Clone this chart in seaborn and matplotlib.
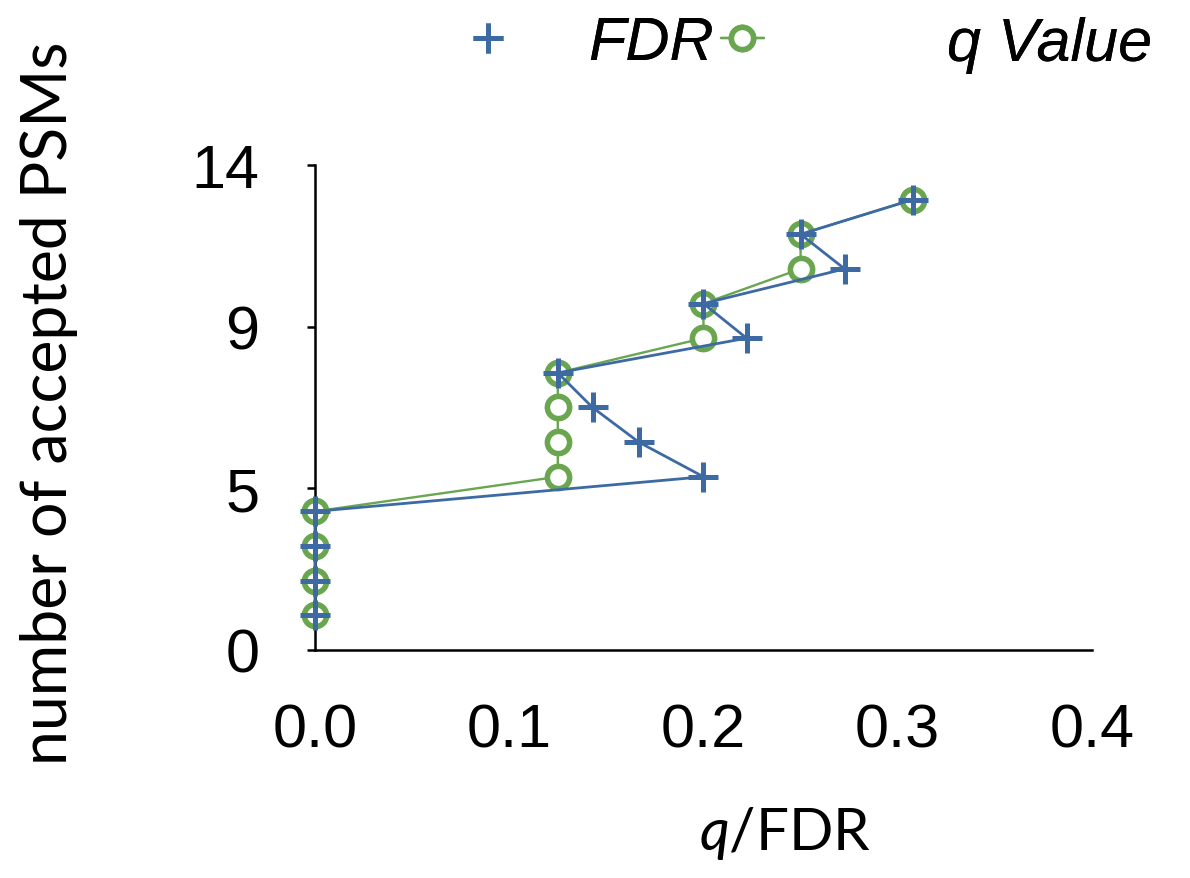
import numpy as np
import pandas as pd
import matplotlib
matplotlib.use("Agg")
import matplotlib.pyplot as plt
import seaborn as sns
from matplotlib.lines import Line2D

# number of accepted PSMs at each threshold
n_accepted = [1, 2, 3, 4, 5, 6, 7, 8, 9, 10, 11, 12, 13]
# running false discovery rate (decoys / targets)
fdr = [0.0, 0.0, 0.0, 0.0, 0.2, 0.1667, 0.1429, 0.125, 0.2222, 0.2, 0.2727, 0.25, 0.3077]
# q value: minimum FDR at which the PSM is accepted
q_value = [0.0, 0.0, 0.0, 0.0, 0.125, 0.125, 0.125, 0.125, 0.2, 0.2, 0.25, 0.25, 0.3077]

x_ticks = [0.0, 0.1, 0.2, 0.3, 0.4]
x_tick_labels = ["0.0", "0.1", "0.2", "0.3", "0.4"]
y_ticks = [0, 14 / 3, 28 / 3, 14]
y_tick_labels = ["0", "5", "9", "14"]

BLUE = "#3d6aa3"
GREEN = "#6aa550"

sns.set_theme(style="white")
plt.rcParams["font.family"] = ["Liberation Sans", "DejaVu Sans"]
plt.rcParams["mathtext.fontset"] = "custom"
plt.rcParams["mathtext.it"] = "Lato:italic"
plt.rcParams["mathtext.rm"] = "Lato"
for key in ["text.color", "axes.labelcolor", "xtick.color", "ytick.color"]:
    plt.rcParams[key] = "black"

df = pd.DataFrame({"n": n_accepted, "fdr": fdr, "q": q_value})

fig = plt.figure(figsize=(11.9, 8.79), dpi=100)
ax = fig.add_axes([0.2647, 0.2594, 0.6529, 0.5518])

circle_style = dict(marker="o", markersize=16, markerfacecolor="white",
                    markeredgecolor=GREEN, markeredgewidth=4)
plus_style = dict(marker="+", markersize=21, markeredgecolor=BLUE,
                  markeredgewidth=3.6)

sns.lineplot(data=df, x="q", y="n", sort=False, estimator=None, ax=ax,
             color=GREEN, linewidth=1.7, zorder=3, clip_on=False, **circle_style)
sns.lineplot(data=df, x="fdr", y="n", sort=False, estimator=None, ax=ax,
             color=BLUE, linewidth=2.0, zorder=4, clip_on=False, **plus_style)

ax.set_xlim(0, 0.4)
ax.set_ylim(0, 14)
ax.set_xticks(x_ticks)
ax.set_xticklabels(x_tick_labels)
ax.set_yticks(y_ticks)
ax.set_yticklabels(y_tick_labels)

for side in ["top", "right"]:
    ax.spines[side].set_visible(False)
for side in ["left", "bottom"]:
    ax.spines[side].set_color("black")
    ax.spines[side].set_linewidth(1.8)
    ax.spines[side].set_zorder(2)

ax.tick_params(axis="y", which="major", left=True, length=6, width=1.8,
               color="black", direction="out", labelsize=44, pad=34)
ax.tick_params(axis="x", which="major", bottom=False, length=0,
               labelsize=44, pad=38)
ax.grid(False)

ax.set_xlabel("")
ax.set_ylabel("number of accepted PSMs", fontsize=45, family=["Lato", "DejaVu Sans"])
ax.yaxis.set_label_coords(-0.305, 0.51)

fig.text(0.66, 0.033, r"$\mathit{q}$/FDR", fontsize=42, ha="center", va="baseline",
         family=["Lato", "DejaVu Sans"])

# legend entries placed individually above the axes
legend_font = {"family": ["Liberation Sans", "DejaVu Sans"], "style": "italic", "size": 44}
entries = [
    (Line2D([], [], color=BLUE, linestyle="none", **plus_style), "FDR", 467 / 1190, 1.28),
    (Line2D([], [], color=GREEN, linewidth=1.7, **circle_style), "q Value", 721 / 1190, 3.0),
]
for handle, label, x0, pad in entries:
    lg = fig.legend([handle], [label], loc="center left",
                    bbox_to_anchor=(x0, 1 - 45 / 879), frameon=False,
                    borderpad=0, borderaxespad=0, handlelength=0.7,
                    handletextpad=pad, prop=legend_font)
    fig.add_artist(lg)

fig.savefig("out.png", dpi=100, facecolor="white")
